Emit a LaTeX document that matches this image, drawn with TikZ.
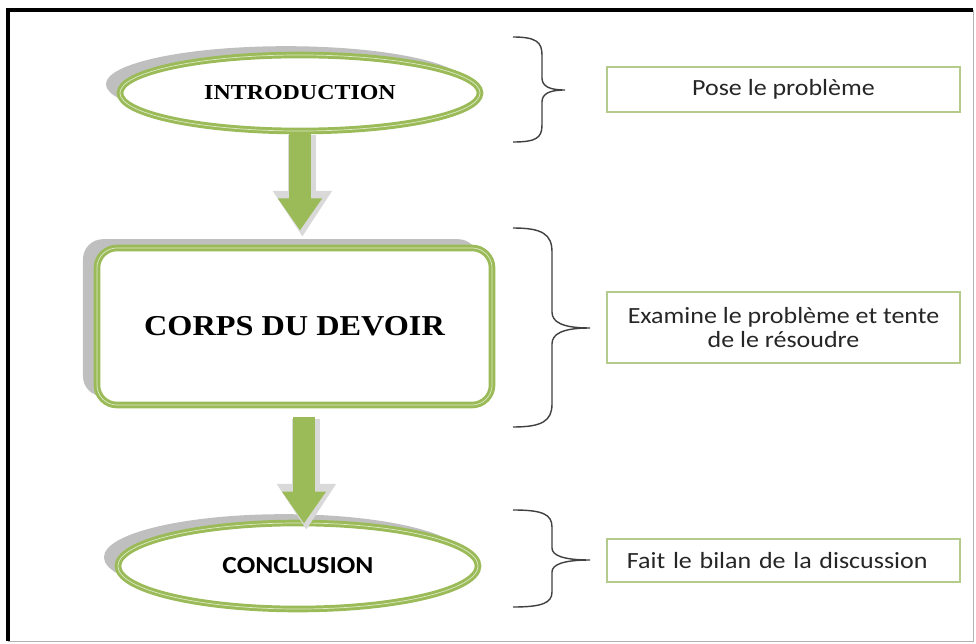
\documentclass[tikz,border=0pt]{standalone}
\usepackage{fontspec}
\setmainfont{Liberation Serif}[FakeStretch=1.12]
\newfontfamily\calibri{Carlito}[FakeStretch=1.12]
\usepackage{tikz}
\usetikzlibrary{shapes}
\usetikzlibrary{calc}
\usetikzlibrary{shadows}
\usetikzlibrary{arrows.meta}

\definecolor{leaf}{HTML}{9BBB59}
\definecolor{leaflight}{HTML}{DDE9C4}
\definecolor{shadowgrey}{HTML}{BFBFBF}
\definecolor{boxedge}{HTML}{B5CB8C}
\definecolor{ink}{HTML}{262626}

\tikzset{
	ring/.style={draw=leaf, line width=2.1pt, double=leaflight, double distance=0.5pt, fill=white,
		drop shadow={shadow xshift=-0.35cm, shadow yshift=0.22cm, fill=shadowgrey, opacity=1}},
	bubble/.style={ring, ellipse, minimum width=9cm, minimum height=1.9cm},
	note/.style={draw=boxedge, line width=1.5pt, fill=white, text=ink, minimum width=8.825cm,
		font=\calibri\fontsize{16.5}{17}\selectfont},
	flow/.style={leaf, line width=0.55cm, -{Triangle[width=1.05cm, length=0.8cm]}},
	flowshade/.style={black!15, line width=0.7cm, -{Triangle[width=1.4cm, length=1.15cm]},
		transform canvas={xshift=0.06cm, yshift=-0.06cm}},
	curly/.style={draw=black!75, line width=1pt}
}

\begin{document}
\begin{tikzpicture}[x=0.025cm, y=-0.025cm]
	\useasboundingbox (0,0) rectangle (976,644);
	% frame
	\draw[line width=2.2pt] (8,641) -- (8,10) -- (973,10);
	\draw[black!30, line width=0.5pt] (973,10) -- (973,641) -- (8,641);

	% left column
	\coordinate (i) at (300,93);
	\node[bubble] (intro) at (i) {\bfseries\fontsize{15.2}{18}\selectfont INTRODUCTION};
	\coordinate (c) at (294.5,326.5);
	\node[ring, rectangle, rounded corners=0.5cm, minimum width=9.875cm, minimum height=3.925cm] (corps) at (c)
		{\bfseries\fontsize{20.5}{24}\selectfont CORPS DU DEVOIR};
	\coordinate (k) at (298,566);
	\node[bubble, minimum height=2.15cm] (concl) at (k) {\calibri\bfseries\fontsize{17.4}{20}\selectfont CONCLUSION};

	\draw[flowshade, shorten >=0.3cm] (intro.south) -- (intro.south |- corps.north);
	\draw[flow, shorten >=0.4cm] (intro.south) -- (intro.south |- corps.north);
	\draw[flowshade, shorten <=0.25cm] ([xshift=0.15cm]concl.north |- corps.south) -- ([xshift=0.15cm, yshift=-0.15cm]concl.north);
	\draw[flow, shorten <=0.25cm, shorten >=0.1cm] ([xshift=0.15cm]concl.north |- corps.south) -- ([xshift=0.15cm, yshift=-0.15cm]concl.north);

	% braces
	\draw[curly] (513,37) .. controls (536,37) and (542,42) .. (542,55) -- (542,78)
		.. controls (542,86) and (549,90) .. (565,90)
		.. controls (549,90) and (542,94) .. (542,102) -- (542,125)
		.. controls (542,138) and (536,142) .. (513,142);
	\draw[curly] (513,228) .. controls (542,228) and (552,234) .. (552,252) -- (552,312)
		.. controls (552,322) and (562,328) .. (590,328)
		.. controls (562,328) and (552,334) .. (552,344) -- (552,404)
		.. controls (552,421) and (542,427) .. (513,427);
	\draw[curly] (513,510) .. controls (542,510) and (552,514) .. (552,527) -- (552,548)
		.. controls (552,555) and (562,560) .. (590,560)
		.. controls (562,560) and (552,565) .. (552,572) -- (552,592)
		.. controls (552,603) and (542,607) .. (513,607);

	% right column
	\node[note, minimum height=1.125cm] (pose) at (783.5,89.5) {Pose le problème};
	\node[note, minimum height=1.775cm, align=center] (exam) at (783.5,327.5)
		{Examine le problème et tente\\de le résoudre};
	\node[note, minimum height=1.075cm, inner xsep=0.5cm, text width=7.825cm, align=left] (bilan) at (783.5,560.5)
		{Fait le bilan de la discussion};
\end{tikzpicture}
\end{document}
